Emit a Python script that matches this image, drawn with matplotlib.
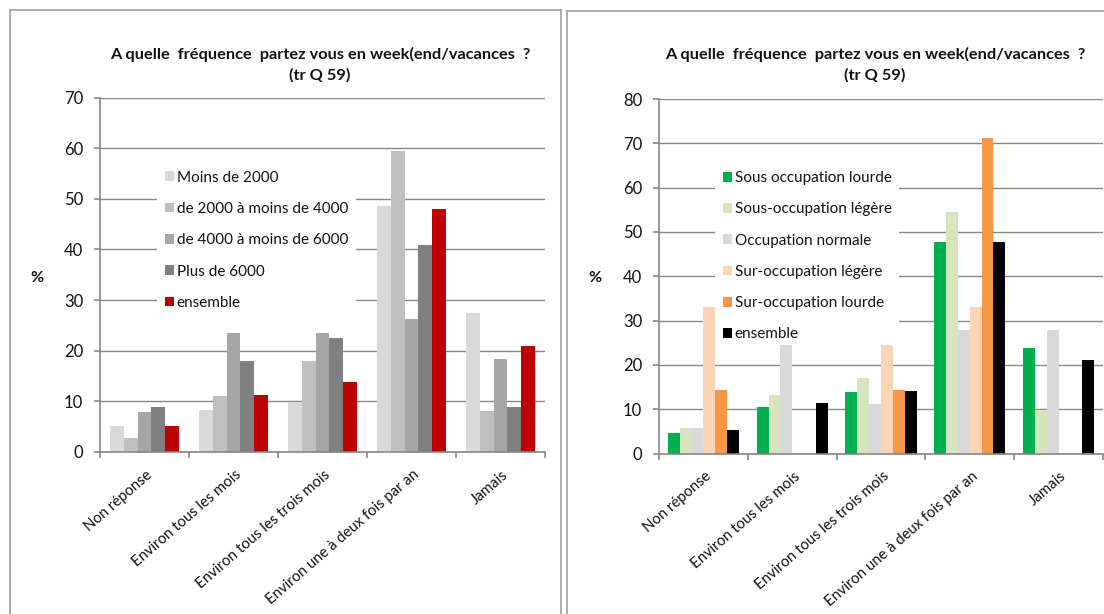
import matplotlib
matplotlib.use("Agg")
import matplotlib.pyplot as plt
import numpy as np
from matplotlib.lines import Line2D
from matplotlib.transforms import ScaledTranslation

W, H = 1104, 614
plt.rcParams["font.family"] = ["Lato", "DejaVu Sans"]

# ---- data -------------------------------------------------------------
categories = [
    "Non réponse",
    "Environ tous les mois",
    "Environ tous les trois mois",
    "Environ une à deux fois par an",
    "Jamais",
]

title_text = "A quelle  fréquence  partez vous en week(end/vacances  ?\n(tr Q 59)"

# Revenue groups
revenu_labels = [
    "Moins de 2000",
    "de 2000 à moins de 4000",
    "de 4000 à moins de 6000",
    "Plus de 6000",
    "ensemble",
]
moins_2000 = [5.1, 8.3, 9.8, 48.6, 27.4]
de_2000_a_4000 = [2.8, 11.1, 18.0, 59.5, 8.0]
de_4000_a_6000 = [7.8, 23.5, 23.5, 26.2, 18.3]
plus_6000 = [8.9, 18.0, 22.6, 40.8, 8.9]
ensemble_revenu = [5.1, 11.3, 13.9, 47.9, 21.0]
revenu_colors = ["#d9d9d9", "#bfbfbf", "#a6a6a6", "#808080", "#c00000"]

# Housing occupancy groups
occupation_labels = [
    "Sous occupation lourde",
    "Sous-occupation légère",
    "Occupation normale",
    "Sur-occupation légère",
    "Sur-occupation lourde",
    "ensemble",
]
sous_occ_lourde = [4.7, 10.4, 13.8, 47.8, 23.7]
sous_occ_legere = [5.7, 13.2, 17.1, 54.4, 9.6]
occ_normale = [5.7, 24.5, 11.1, 27.8, 27.8]
sur_occ_legere = [33.1, 0.0, 24.5, 33.1, 0.0]
sur_occ_lourde = [14.4, 0.0, 14.4, 71.1, 0.0]
ensemble_occ = [5.4, 11.4, 14.1, 47.8, 21.1]
occupation_colors = ["#00b050", "#d7e4bd", "#d9d9d9", "#fcd5b5", "#f79646", "#000000"]

AXIS_GREY = "#868686"
TXT = "#111111"


def px_rect(x0, y_top, x1, y_bottom):
    """Axes rectangle from pixel coordinates (origin top-left)."""
    return [x0 / W, 1 - y_bottom / H, (x1 - x0) / W, (y_bottom - y_top) / H]


def draw_panel(fig, ax, series, labels, colors, ymax, legend_box):
    n = len(series)
    w = 1.0 / (n + 1.5)
    x = np.arange(len(categories))
    for k, (vals, lab, col) in enumerate(zip(series, labels, colors)):
        ax.bar(x + (k - (n - 1) / 2) * w, vals, width=w, color=col,
               label=lab, linewidth=0, zorder=2)

    ax.set_xlim(-0.5, len(categories) - 0.5)
    ax.set_ylim(0, ymax)
    ax.set_yticks(np.arange(0, ymax + 1, 10))
    ax.yaxis.grid(True, color=AXIS_GREY, linewidth=1.0, zorder=0)
    ax.set_axisbelow(True)
    for s in ("top", "right"):
        ax.spines[s].set_visible(False)
    for s in ("left", "bottom"):
        ax.spines[s].set_color(AXIS_GREY)
        ax.spines[s].set_linewidth(1.2)

    ax.set_xticks(x)
    ax.set_xticklabels(categories, rotation=41, ha="right", va="center",
                       rotation_mode="anchor", fontsize=10.7, color=TXT)
    ax.tick_params(axis="x", which="major", length=0, pad=15)
    shift = ScaledTranslation(6 / 100, 0, fig.dpi_scale_trans)
    for lbl in ax.get_xticklabels():
        lbl.set_transform(lbl.get_transform() + shift)
    ax.set_xticks(np.arange(-0.5, len(categories)), minor=True)
    ax.tick_params(axis="x", which="minor", length=4, width=1.2, color=AXIS_GREY)
    ax.tick_params(axis="y", length=4, width=1.2, color=AXIS_GREY,
                   labelsize=12, labelcolor=TXT, pad=8)

    leg = ax.legend(loc="upper left", bbox_to_anchor=legend_box,
                    bbox_transform=ax.transAxes, fontsize=11,
                    frameon=True, fancybox=False, framealpha=1,
                    facecolor="white", edgecolor="none",
                    handlelength=0.6, handleheight=0.6, handletextpad=0.2,
                    labelspacing=1.13, borderpad=0.5, borderaxespad=0)
    for t in leg.get_texts():
        t.set_color(TXT)
    # legend box sits over the gridlines but under the bars
    leg.set_zorder(1.5)


fig = plt.figure(figsize=(W / 100, H / 100), dpi=100)
fig.patch.set_facecolor("white")

# panel frames
frame_kw = dict(color="#a6a6a6", linewidth=1.3, transform=fig.transFigure)


def fline(x0, y0, x1, y1):
    fig.add_artist(Line2D([x0 / W, x1 / W], [1 - y0 / H, 1 - y1 / H], **frame_kw))


fline(10, 10, 561, 10)
fline(10, 10, 10, 614)
fline(561, 10, 561, 614)
fline(567, 11, 1104, 11)
fline(567, 11, 567, 614)

ax1 = fig.add_axes(px_rect(100, 97.5, 545, 452))
draw_panel(fig, ax1,
           [moins_2000, de_2000_a_4000, de_4000_a_6000, plus_6000, ensemble_revenu],
           revenu_labels, revenu_colors, 70, (0.128, 0.815))

ax2 = fig.add_axes(px_rect(659, 99, 1103, 453.5))
draw_panel(fig, ax2,
           [sous_occ_lourde, sous_occ_legere, occ_normale,
            sur_occ_legere, sur_occ_lourde, ensemble_occ],
           occupation_labels, occupation_colors, 80, (0.126, 0.818))

# titles and y-axis captions
for cx in (320, 875):
    fig.text(cx / W, 1 - 64.5 / H, title_text, ha="center", va="center",
             fontsize=11.8, fontweight="bold", color=TXT, linespacing=1.55)
fig.text(37 / W, 1 - 278 / H, "%", ha="center", va="center",
         fontsize=11.5, fontweight="bold", color=TXT)
fig.text(595 / W, 1 - 278 / H, "%", ha="center", va="center",
         fontsize=11.5, fontweight="bold", color=TXT)

fig.savefig("out.png", dpi=100)
